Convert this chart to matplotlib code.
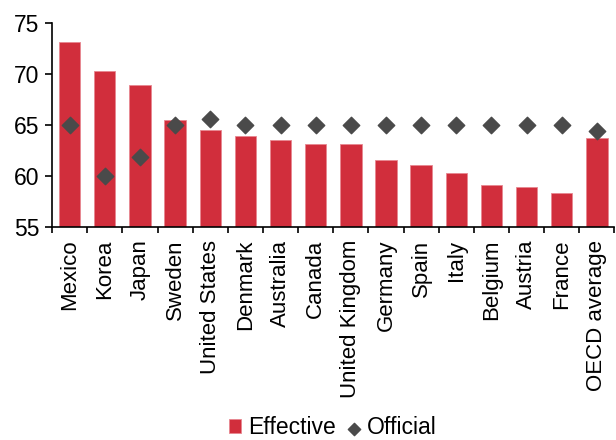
import numpy as np
import matplotlib.pyplot as plt

plt.rcParams['font.family'] = ['Liberation Sans', 'DejaVu Sans']

countries = ["Mexico", "Korea", "Japan", "Sweden", "United States", "Denmark",
             "Australia", "Canada", "United Kingdom", "Germany", "Spain", "Italy",
             "Belgium", "Austria", "France", "OECD average"]
effective = [73.1, 70.3, 68.9, 65.45, 64.5, 63.9, 63.5, 63.1, 63.1, 61.6,
             61.05, 60.25, 59.1, 58.9, 58.3, 63.7]
official = [65, 60, 61.9, 65, 65.6, 65, 65, 65, 65, 65, 65, 65, 65, 65, 65, 64.45]

fig = plt.figure(figsize=(6.16, 4.4), dpi=100)
ax = fig.add_axes([0.0845, 0.484, 0.913, 0.464])

x = np.arange(len(countries))
bars = ax.bar(x, [v - 55 for v in effective], bottom=55, width=0.61, color='#d12e3c',
              edgecolor='#e88790', linewidth=0.6, label='Effective', zorder=2)
pts = ax.scatter(x, official, marker='D', s=70, color='#4a4a4a', label='Official', zorder=3)

ax.set_ylim(55, 75)
ax.set_xlim(-0.5, len(countries) - 0.5)
ax.set_yticks([55, 60, 65, 70, 75])
ax.set_xticks(x)
ax.set_xticklabels(countries, rotation=90, fontsize=16)
ax.set_xticks(np.arange(-0.5, len(countries), 1), minor=True)
ax.tick_params(axis='x', which='major', length=0, pad=9)
ax.tick_params(axis='x', which='minor', length=4, width=1.2, direction='out')
ax.tick_params(axis='y', labelsize=16.5, length=5, width=1.2, direction='out', pad=4)

for s in ['top', 'right']:
    ax.spines[s].set_visible(False)
ax.spines['left'].set_linewidth(1.2)
ax.spines['bottom'].set_linewidth(1.2)

fig.legend([bars, pts], ['Effective', 'Official'], loc='lower center',
           bbox_to_anchor=(0.54, -0.045), ncol=2, frameon=False,
           fontsize=16.5, handlelength=0.55, handleheight=0.55, handletextpad=0.3,
           columnspacing=0.5, markerscale=0.75)

plt.savefig('out.png', dpi=100)
